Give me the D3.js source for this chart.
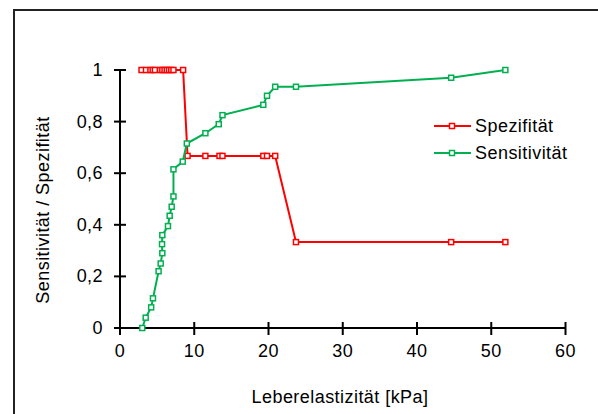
<!DOCTYPE html>
<html>
<head>
<meta charset="utf-8">
<script src="https://cdn.jsdelivr.net/npm/d3@7"></script>
<style>
  body { margin: 0; background: #fff; }
  svg text { font-family: "Liberation Sans", Arial, sans-serif; fill: #000; letter-spacing: 0.45px; }
</style>
</head>
<body>
<svg id="chart" width="598" height="414"></svg>
<script>
// Spezifität (red)
let spezX = [2.9, 3.5, 4.1, 4.4, 4.7, 5.4, 5.7, 6.0, 6.3, 6.6, 6.9, 7.2, 8.5,
             9.1, 11.5, 13.4, 13.8, 19.3, 19.8, 20.9,
             23.7, 44.6, 51.9];
let spezY = [1, 1, 1, 1, 1, 1, 1, 1, 1, 1, 1, 1, 1,
             0.667, 0.667, 0.667, 0.667, 0.667, 0.667, 0.667,
             0.333, 0.333, 0.333];

// Sensitivität (green)
let sensX = [3.0, 3.46, 4.2, 4.44, 5.2, 5.48, 5.7, 5.66, 5.7, 6.46, 6.69, 6.96, 7.2,
             7.2, 8.45, 9.0, 11.5, 13.3, 13.8, 19.3, 19.8, 20.9, 23.7, 44.6, 51.9];
let sensY = [0.0, 0.04, 0.08, 0.115, 0.22, 0.25, 0.29, 0.325, 0.36, 0.395, 0.435, 0.47, 0.51,
             0.615, 0.645, 0.715, 0.755, 0.79, 0.825, 0.865, 0.9, 0.935, 0.935, 0.97, 1.0];

let xTicks = [0, 10, 20, 30, 40, 50, 60];
let yTicks = [0, 0.2, 0.4, 0.6, 0.8, 1];

let series = [
    {name: 'Spezifität', color: '#ff0000', xs: spezX, ys: spezY},
    {name: 'Sensitivität', color: '#00b050', xs: sensX, ys: sensY}
];

let svg = d3.select('#chart');

// outer chart frame
svg.append('rect')
    .attr('x', 14).attr('y', 10)
    .attr('width', 600).attr('height', 420)
    .attr('fill', 'none')
    .attr('stroke', '#222')
    .attr('stroke-width', 2);

let xScale = d3.scaleLinear().domain([0, 60]).range([120, 565.5]);
let yScale = d3.scaleLinear().domain([0, 1]).range([328, 70]);

let fmt = d => d == 0 || d == 1 ? String(d) : d3.format('.1f')(d).replace('.', ',');

// x axis
let xAxis = svg.append('g');
xAxis.append('line')
    .attr('x1', xScale(0)).attr('x2', xScale(60))
    .attr('y1', yScale(0)).attr('y2', yScale(0))
    .attr('stroke', '#000').attr('stroke-width', 2);
xAxis.selectAll('.xtick')
    .data(xTicks)
    .join('line')
    .classed('xtick', true)
    .attr('x1', d => xScale(d)).attr('x2', d => xScale(d))
    .attr('y1', yScale(0) - 6).attr('y2', yScale(0) + 7)
    .attr('stroke', '#000').attr('stroke-width', 2);
xAxis.selectAll('.xlab')
    .data(xTicks)
    .join('text')
    .classed('xlab', true)
    .attr('x', d => xScale(d))
    .attr('y', 357)
    .attr('text-anchor', 'middle')
    .attr('font-size', 18)
    .text(d => d);

// y axis
let yAxis = svg.append('g');
yAxis.append('line')
    .attr('x1', xScale(0)).attr('x2', xScale(0))
    .attr('y1', yScale(0)).attr('y2', yScale(1))
    .attr('stroke', '#000').attr('stroke-width', 2);
yAxis.selectAll('.ytick')
    .data(yTicks)
    .join('line')
    .classed('ytick', true)
    .attr('x1', xScale(0) - 6).attr('x2', xScale(0) + 6)
    .attr('y1', d => yScale(d)).attr('y2', d => yScale(d))
    .attr('stroke', '#000').attr('stroke-width', 2);
yAxis.selectAll('.ylab')
    .data(yTicks)
    .join('text')
    .classed('ylab', true)
    .attr('x', 103)
    .attr('y', d => yScale(d) + 6)
    .attr('text-anchor', 'end')
    .attr('font-size', 18)
    .text(fmt);

// axis titles
svg.append('text')
    .attr('x', 340).attr('y', 403)
    .attr('text-anchor', 'middle')
    .attr('font-size', 18)
    .text('Leberelastizität [kPa]');

svg.append('text')
    .attr('transform', 'translate(49, 210) rotate(-90)')
    .attr('text-anchor', 'middle')
    .attr('font-size', 18)
    .text('Sensitivität / Spezifität');

// lines + markers
let line = d3.line().x(d => xScale(d[0])).y(d => yScale(d[1]));

series.forEach(s => {
    let pts = s.xs.map((x, i) => [x, s.ys[i]]);
    svg.append('path')
        .datum(pts)
        .attr('d', line)
        .attr('fill', 'none')
        .attr('stroke', s.color)
        .attr('stroke-width', 2);
    svg.selectAll('.m' + s.name)
        .data(pts)
        .join('rect')
        .attr('x', d => xScale(d[0]) - 2.5)
        .attr('y', d => yScale(d[1]) - 2.5)
        .attr('width', 5).attr('height', 5)
        .attr('fill', '#fff')
        .attr('stroke', s.color)
        .attr('stroke-width', 1.5);
});

// legend
let legend = svg.append('g');
series.forEach((s, i) => {
    let y = 126 + i * 27;
    legend.append('line')
        .attr('x1', 434).attr('x2', 471)
        .attr('y1', y).attr('y2', y)
        .attr('stroke', s.color).attr('stroke-width', 2);
    legend.append('rect')
        .attr('x', 452 - 2.5).attr('y', y - 2.5)
        .attr('width', 5).attr('height', 5)
        .attr('fill', '#fff')
        .attr('stroke', s.color).attr('stroke-width', 1.5);
    legend.append('text')
        .attr('x', 475).attr('y', y + 6)
        .attr('font-size', 18)
        .text(s.name);
});
</script>
</body>
</html>
